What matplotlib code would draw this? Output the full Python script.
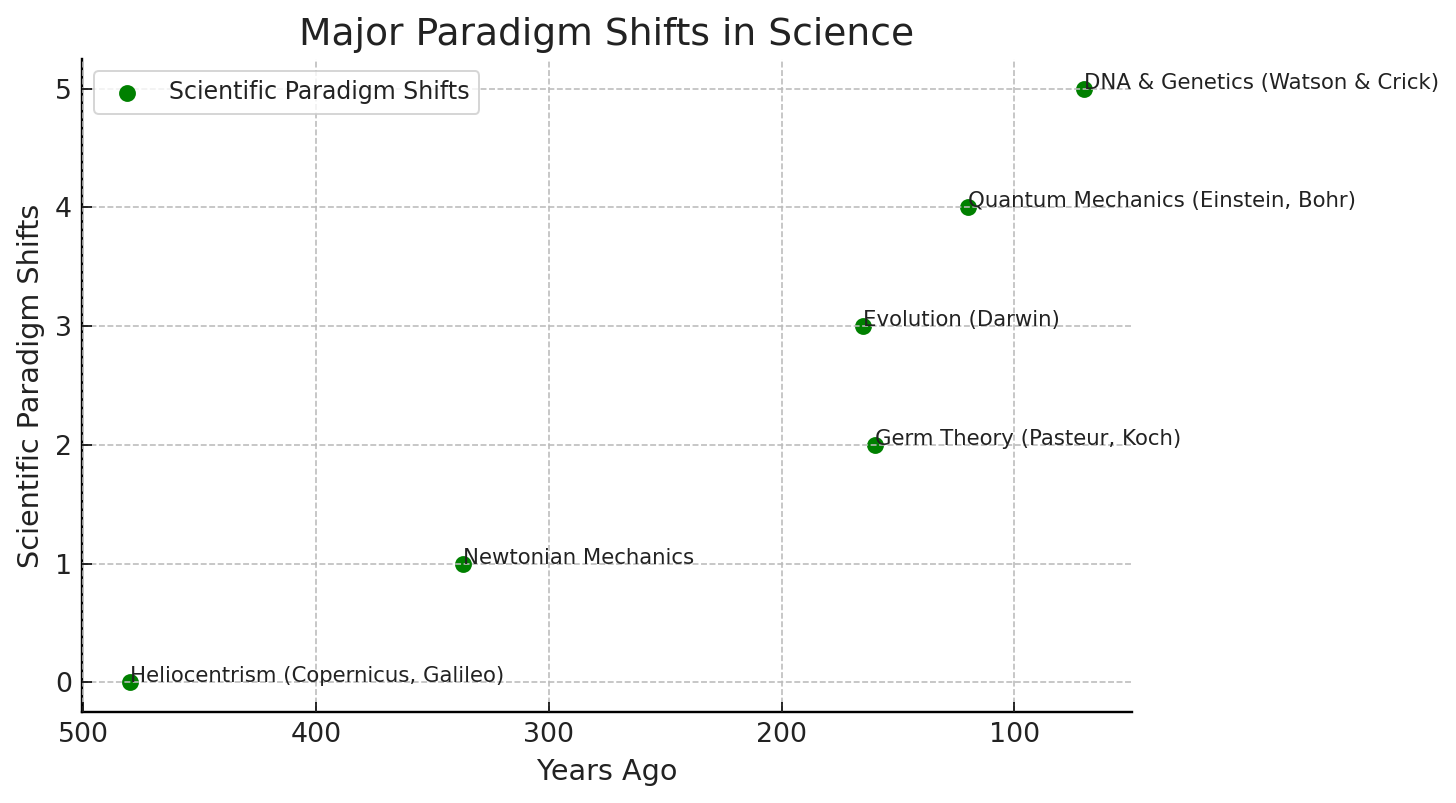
import matplotlib
matplotlib.use("Agg")
import matplotlib.pyplot as plt

labels = ["Heliocentrism (Copernicus, Galileo)", "Newtonian Mechanics",
          "Germ Theory (Pasteur, Koch)", "Evolution (Darwin)",
          "Quantum Mechanics (Einstein, Bohr)", "DNA & Genetics (Watson & Crick)"]
years_ago = [480, 337, 160, 165, 120, 70]
shift_index = [0, 1, 2, 3, 4, 5]

plt.rcParams['font.family'] = ['DejaVu Sans']
fig = plt.figure(figsize=(1456/144, 803/144), dpi=144)
ax = fig.add_axes([82/1456, 1-712/803, (1132-82)/1456, (712-59)/803])

ax.scatter(years_ago, shift_index, color='green', s=55, label='Scientific Paradigm Shifts', zorder=2)
for x, y, t in zip(years_ago, shift_index, labels):
    ax.text(x, y, t, fontsize=10.6, color='#222222', zorder=4)

ax.invert_xaxis()
ax.set_title('Major Paradigm Shifts in Science', fontsize=18.8, color='#222222', pad=7)
ax.set_xlabel('Years Ago', fontsize=14.3, color='#222222', labelpad=5)
ax.set_ylabel('Scientific Paradigm Shifts', fontsize=14.3, color='#222222', labelpad=5)
ax.tick_params(direction='in', labelsize=13.4, colors='#222222', length=5, pad=5)
ax.tick_params(color='black')
ax.grid(True, linestyle='--', color='#bbbbbb', linewidth=0.8, zorder=3)
ax.set_axisbelow(False)
for s in ['top', 'right']:
    ax.spines[s].set_visible(False)
for s in ['left', 'bottom']:
    ax.spines[s].set_linewidth(1.2)
leg = ax.legend(loc='upper left', fontsize=11.8, frameon=True)
leg.get_frame().set_edgecolor('#cccccc')
for t in leg.get_texts():
    t.set_color('#222222')

fig.savefig('out.png', dpi=144)
